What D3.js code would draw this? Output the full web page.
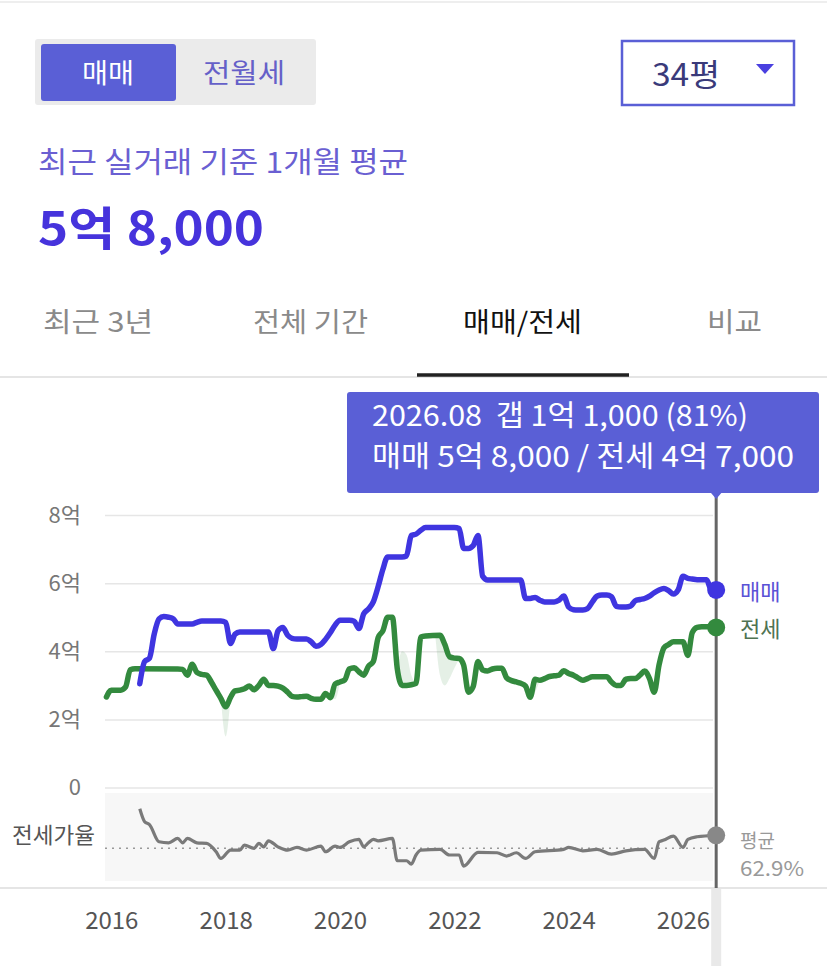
<!DOCTYPE html>
<html>
<head>
<meta charset="utf-8">
<script src="https://cdn.jsdelivr.net/npm/d3@7"></script>
<style>
  body { margin: 0; background: #fff; }
  svg { display: block; font-family: "Noto Sans CJK KR", "Noto Sans", sans-serif; }
</style>
</head>
<body>
<script>

// 매매 (sale) monthly average, 억
var saleData = [
  ["2016-07", 3.05], ["2016-08", 3.7], ["2016-09", 3.8], ["2016-10", 4.5], ["2016-11", 4.95],
  ["2016-12", 5.02], ["2017-01", 5.0], ["2017-02", 4.95], ["2017-03", 4.8], ["2017-06", 4.8],
  ["2017-07", 4.85], ["2017-08", 4.89], ["2017-12", 4.89], ["2018-01", 4.85], ["2018-02", 4.23],
  ["2018-03", 4.5], ["2018-04", 4.57], ["2018-10", 4.57], ["2018-11", 4.08], ["2018-12", 4.6],
  ["2019-01", 4.7], ["2019-02", 4.47], ["2019-03", 4.38], ["2019-04", 4.36], ["2019-06", 4.36],
  ["2019-07", 4.28], ["2019-08", 4.15], ["2019-09", 4.2], ["2019-10", 4.35], ["2019-11", 4.55],
  ["2019-12", 4.77], ["2020-01", 4.91], ["2020-03", 4.91], ["2020-04", 4.88], ["2020-05", 4.67],
  ["2020-06", 5.1], ["2020-07", 5.24], ["2020-08", 5.45], ["2020-09", 5.9], ["2020-10", 6.4],
  ["2020-11", 6.77], ["2021-02", 6.77], ["2021-03", 6.8], ["2021-04", 7.4], ["2021-05", 7.44],
  ["2021-06", 7.55], ["2021-07", 7.63], ["2022-01", 7.63], ["2022-02", 7.6], ["2022-03", 7.02],
  ["2022-04", 7.02], ["2022-05", 7.1], ["2022-06", 7.4], ["2022-07", 6.2], ["2022-08", 6.09],
  ["2023-03", 6.09], ["2023-04", 5.55], ["2023-05", 5.55], ["2023-06", 5.58], ["2023-07", 5.5],
  ["2023-08", 5.45], ["2023-10", 5.45], ["2023-11", 5.5], ["2023-12", 5.62], ["2024-01", 5.3],
  ["2024-02", 5.22], ["2024-03", 5.21], ["2024-04", 5.21], ["2024-05", 5.25], ["2024-06", 5.45],
  ["2024-07", 5.62], ["2024-08", 5.65], ["2024-09", 5.65], ["2024-10", 5.6], ["2024-11", 5.32],
  ["2024-12", 5.3], ["2025-01", 5.3], ["2025-02", 5.33], ["2025-03", 5.48], ["2025-04", 5.52],
  ["2025-05", 5.55], ["2025-06", 5.62], ["2025-07", 5.72], ["2025-08", 5.8], ["2025-09", 5.84],
  ["2025-10", 5.78], ["2025-11", 5.68], ["2025-12", 5.8], ["2026-01", 6.2], ["2026-02", 6.14],
  ["2026-03", 6.12], ["2026-04", 6.1], ["2026-06", 6.1], ["2026-07", 5.8], ["2026-08", 5.8]
];

// 전세 (jeonse) monthly average, 억
var jeonseData = [
  ["2015-12", 2.66], ["2016-01", 2.86], ["2016-03", 2.86], ["2016-04", 2.95], ["2016-05", 3.46],
  ["2016-06", 3.49], ["2017-03", 3.48], ["2017-04", 3.47], ["2017-05", 3.3], ["2017-06", 3.62],
  ["2017-07", 3.38], ["2017-08", 3.32], ["2017-09", 3.3], ["2017-10", 3.1], ["2017-11", 2.85],
  ["2017-12", 2.62], ["2018-01", 2.37], ["2018-02", 2.65], ["2018-03", 2.84], ["2018-04", 2.86],
  ["2018-05", 2.9], ["2018-06", 2.98], ["2018-07", 2.87], ["2018-08", 3.0], ["2018-09", 3.18],
  ["2018-10", 3.0], ["2018-11", 3.0], ["2018-12", 2.98], ["2019-01", 2.92], ["2019-02", 2.8],
  ["2019-03", 2.68], ["2019-04", 2.66], ["2019-05", 2.67], ["2019-06", 2.68], ["2019-07", 2.62],
  ["2019-08", 2.59], ["2019-09", 2.59], ["2019-10", 2.76], ["2019-11", 2.64], ["2019-12", 3.04],
  ["2020-01", 3.1], ["2020-02", 3.16], ["2020-03", 3.48], ["2020-04", 3.52], ["2020-05", 3.4],
  ["2020-06", 3.3], ["2020-07", 3.56], ["2020-08", 3.7], ["2020-09", 4.4], ["2020-10", 4.6],
  ["2020-11", 5.0], ["2020-12", 5.0], ["2021-01", 3.5], ["2021-02", 3.0], ["2021-03", 3.0],
  ["2021-04", 3.02], ["2021-05", 3.06], ["2021-06", 4.42], ["2021-07", 4.45], ["2021-10", 4.47],
  ["2021-11", 4.2], ["2021-12", 3.84], ["2022-01", 3.8], ["2022-02", 3.79], ["2022-03", 3.6],
  ["2022-04", 2.8], ["2022-05", 2.96], ["2022-06", 3.7], ["2022-07", 3.45], ["2022-08", 3.42],
  ["2022-09", 3.48], ["2022-10", 3.5], ["2022-11", 3.5], ["2022-12", 3.22], ["2023-01", 3.14],
  ["2023-02", 3.1], ["2023-03", 3.06], ["2023-04", 2.98], ["2023-05", 2.65], ["2023-06", 3.18],
  ["2023-07", 3.15], ["2023-08", 3.2], ["2023-09", 3.26], ["2023-10", 3.28], ["2023-11", 3.3],
  ["2023-12", 3.43], ["2024-01", 3.35], ["2024-02", 3.3], ["2024-03", 3.22], ["2024-04", 3.15],
  ["2024-05", 3.2], ["2024-06", 3.25], ["2024-09", 3.25], ["2024-10", 3.1], ["2024-11", 3.0],
  ["2024-12", 3.0], ["2025-01", 3.18], ["2025-02", 3.2], ["2025-03", 3.2], ["2025-04", 3.3],
  ["2025-05", 3.42], ["2025-06", 3.2], ["2025-07", 2.8], ["2025-08", 3.6], ["2025-09", 4.1],
  ["2025-10", 4.2], ["2025-11", 4.28], ["2026-01", 4.28], ["2026-02", 3.88], ["2026-03", 4.55],
  ["2026-04", 4.7], ["2026-05", 4.72], ["2026-07", 4.72], ["2026-08", 4.7]
];

// faint 전세 trade range [month, low, high]
var jeonseRange = [
  [["2017-12", 2.62, 2.62], ["2018-01", 1.5, 2.37], ["2018-02", 2.65, 2.65]],
  [["2019-11", 2.64, 2.64], ["2019-12", 2.6, 3.04], ["2020-01", 3.1, 3.1]],
  [["2021-01", 3.5, 3.5], ["2021-02", 3.0, 4.0], ["2021-03", 3.0, 3.9], ["2021-04", 3.02, 3.3], ["2021-05", 3.06, 3.06]],
  [["2021-09", 4.47, 4.47], ["2021-10", 3.3, 4.47], ["2021-11", 3.0, 4.2], ["2021-12", 3.2, 3.84], ["2022-01", 3.5, 3.8], ["2022-02", 3.79, 3.79]],
  [["2023-05", 2.65, 2.65], ["2023-06", 2.8, 3.18], ["2023-07", 3.15, 3.15]]
];

// 전세가율 (%)
var ratioData = [
  ["2016-07", 118], ["2016-08", 100], ["2016-09", 96], ["2016-11", 72], ["2017-01", 70.5],
  ["2017-03", 76.6], ["2017-04", 70.5], ["2017-05", 76.6], ["2017-07", 70.5], ["2017-09", 69.7],
  ["2017-11", 58], ["2017-12", 48.7], ["2018-02", 60.3], ["2018-04", 60.3], ["2018-05", 67.3],
  ["2018-07", 62.7], ["2018-08", 69.7], ["2018-09", 64.9], ["2018-10", 73.3], ["2018-12", 64.9],
  ["2019-02", 60.3], ["2019-04", 64.1], ["2019-06", 60.3], ["2019-09", 65.9], ["2019-10", 58],
  ["2019-12", 65.9], ["2020-01", 64.1], ["2020-03", 71.9], ["2020-05", 75.3], ["2020-06", 64.9],
  ["2020-07", 70.5], ["2020-08", 75.3], ["2020-09", 73.3], ["2020-12", 76.6], ["2021-01", 45.5],
  ["2021-03", 45.5], ["2021-04", 40.8], ["2021-05", 53.5], ["2021-06", 60.3], ["2021-10", 61.3],
  ["2021-12", 53.5], ["2022-02", 53.5], ["2022-03", 38], ["2022-06", 57.2], ["2022-10", 56.6],
  ["2022-12", 52], ["2023-02", 56.6], ["2023-04", 48.7], ["2023-06", 58], ["2023-12", 61.3],
  ["2024-01", 64.1], ["2024-04", 59.3], ["2024-07", 61.3], ["2024-10", 54.7], ["2025-01", 59.3],
  ["2025-05", 61.3], ["2025-07", 48.7], ["2025-08", 71.9], ["2025-09", 74.3], ["2025-11", 79.9],
  ["2026-01", 64.1], ["2026-02", 75.3], ["2026-04", 78.9], ["2026-08", 81]
];

var ratioAverage = 62.9;
var yTicks = [0, 2, 4, 6, 8];
var yearTicks = ["2016", "2018", "2020", "2022", "2024", "2026"];

var toggleLabels = ["매매", "전월세"];
var tabLabels = ["최근 3년", "전체 기간", "매매/전세", "비교"];
var areaLabel = "34평";
var subtitle = "최근 실거래 기준 1개월 평균";
var headline = "5억 8,000";
var tipLines = ["2026.08  갭 1억 1,000 (81%)", "매매 5억 8,000 / 전세 4억 7,000"];
var focusMonth = "2026-08";

var colors = { sale: "#3f35e0", jeonse: "#338a3e", ratio: "#7a7a7a", accent: "#5a5fd6" };

var width = 827, height = 966;
var plot_left = 105, plot_right = 713;

var parse = d3.timeParse("%Y-%m");
var parseYear = d3.timeParse("%Y");

var svg = d3.select("body").append("svg")
    .attr("width", width)
    .attr("height", height);

var x = d3.scaleTime()
    .domain([parse("2016-01"), parse("2026-01")])
    .range([111.3, 683]);

var y = d3.scaleLinear().domain([0, 8]).range([787.6, 515]);
var yRatio = d3.scaleLinear().domain([20, 140]).range([879, 793]);

// stretch a text to the width it has in the picture
function fit(sel, w) {
    sel.attr("textLength", w).attr("lengthAdjust", "spacingAndGlyphs");
}

// ---- header ----
svg.append("line")
    .attr("x1", 0).attr("x2", width).attr("y1", 2).attr("y2", 2)
    .attr("stroke", "#eeeeee").attr("stroke-width", 2);

svg.append("rect")
    .attr("x", 35).attr("y", 39).attr("width", 281).attr("height", 66)
    .attr("rx", 3).attr("fill", "#ebebeb");

svg.append("rect")
    .attr("x", 41).attr("y", 44).attr("width", 135).attr("height", 57)
    .attr("rx", 3).attr("fill", colors.accent);

var toggleW = [52, 82];
svg.selectAll(".toggle").data(toggleLabels).enter().append("text")
    .attr("x", (d, i) => i == 0 ? 108 : 244)
    .attr("y", 74)
    .attr("dy", "0.35em")
    .attr("text-anchor", "middle")
    .attr("font-size", 27)
    .attr("fill", (d, i) => i == 0 ? "#ffffff" : "#6560c8")
    .attr("textLength", (d, i) => toggleW[i])
    .attr("lengthAdjust", "spacingAndGlyphs")
    .text(d => d);

svg.append("rect")
    .attr("x", 622).attr("y", 41).attr("width", 172).attr("height", 64)
    .attr("fill", "#fff").attr("stroke", colors.accent).attr("stroke-width", 2.5);

svg.append("text")
    .attr("x", 686).attr("y", 75).attr("dy", "0.35em")
    .attr("text-anchor", "middle").attr("font-size", 31)
    .attr("fill", "#3a3a7a")
    .call(fit, 68)
    .text(areaLabel);

svg.append("path")
    .attr("d", "M756,64 L774,64 L765,74 Z")
    .attr("fill", "#4a40e0");

svg.append("text")
    .attr("x", 38).attr("y", 163).attr("dy", "0.35em")
    .attr("font-size", 29).attr("fill", "#6a5fd2")
    .call(fit, 370)
    .text(subtitle);

svg.append("text")
    .attr("x", 38).attr("y", 229).attr("dy", "0.35em")
    .attr("font-size", 46).attr("font-weight", "bold")
    .attr("fill", "#4633dc")
    .call(fit, 226)
    .text(headline);

// ---- tabs ----
var tabX = [98, 310.5, 522.5, 734.5];
var tabW = [110, 115, 119, 55];
svg.selectAll(".tab").data(tabLabels).enter().append("text")
    .attr("x", (d, i) => tabX[i])
    .attr("y", 323).attr("dy", "0.35em")
    .attr("text-anchor", "middle")
    .attr("font-size", 27)
    .attr("fill", (d, i) => i == 2 ? "#111111" : "#8a8a8a")
    .attr("textLength", (d, i) => tabW[i])
    .attr("lengthAdjust", "spacingAndGlyphs")
    .text(d => d);

svg.append("line")
    .attr("x1", 0).attr("x2", width).attr("y1", 377).attr("y2", 377)
    .attr("stroke", "#dddddd").attr("stroke-width", 1.5);

svg.append("line")
    .attr("x1", 417).attr("x2", 629).attr("y1", 375).attr("y2", 375)
    .attr("stroke", "#222").attr("stroke-width", 3.5);

// ---- y axis with grid ----
var yAxis = d3.axisLeft(y)
    .tickValues(yTicks)
    .tickSize(-(plot_right - plot_left))
    .tickPadding(24)
    .tickFormat(d => d == 0 ? "0" : d + "억");

var gy = svg.append("g")
    .attr("transform", "translate(" + plot_left + ",0)")
    .call(yAxis);
gy.select(".domain").remove();
gy.selectAll(".tick line").attr("stroke", "#e6e6e6").attr("stroke-width", 1.5);
gy.selectAll(".tick text")
    .attr("font-size", 22).attr("fill", "#777")
    .attr("font-family", "'Noto Sans CJK KR', sans-serif");

// ---- ratio panel ----
svg.append("rect")
    .attr("x", plot_left).attr("y", yRatio.range()[1])
    .attr("width", plot_right - plot_left)
    .attr("height", yRatio.range()[0] - yRatio.range()[1] + 2)
    .attr("fill", "#f7f7f7");

svg.append("line")
    .attr("x1", plot_left).attr("x2", plot_right)
    .attr("y1", yRatio(ratioAverage)).attr("y2", yRatio(ratioAverage))
    .attr("stroke", "#999").attr("stroke-width", 1.5)
    .attr("stroke-dasharray", "2,5");

svg.append("text")
    .attr("x", 95).attr("y", 835).attr("dy", "0.35em")
    .attr("text-anchor", "end").attr("font-size", 22)
    .attr("fill", "#555")
    .call(fit, 83)
    .text("전세가율");

// ---- lines ----
function setLine(yScale) {
    return d3.line()
        .x(d => x(parse(d[0])))
        .y(d => yScale(d[1]))
        .curve(d3.curveMonotoneX);
}

var band = d3.area()
    .x(d => x(parse(d[0])))
    .y0(d => y(d[1]))
    .y1(d => y(d[2]))
    .curve(d3.curveMonotoneX);

svg.append("g").selectAll("path").data(jeonseRange).enter().append("path")
    .attr("d", d => band(d))
    .attr("fill", colors.jeonse)
    .attr("opacity", 0.13);

svg.append("path")
    .attr("d", setLine(yRatio)(ratioData))
    .attr("fill", "none")
    .attr("stroke", colors.ratio)
    .attr("stroke-width", 3.2)
    .attr("stroke-linejoin", "round");

svg.append("path")
    .attr("d", setLine(y)(jeonseData))
    .attr("fill", "none")
    .attr("stroke", colors.jeonse)
    .attr("stroke-width", 5.5)
    .attr("stroke-linejoin", "round")
    .attr("stroke-linecap", "round");

svg.append("path")
    .attr("d", setLine(y)(saleData))
    .attr("fill", "none")
    .attr("stroke", colors.sale)
    .attr("stroke-width", 5.5)
    .attr("stroke-linejoin", "round")
    .attr("stroke-linecap", "round");

// ---- bottom axis ----
svg.append("line")
    .attr("x1", 0).attr("x2", width).attr("y1", 888).attr("y2", 888)
    .attr("stroke", "#dddddd").attr("stroke-width", 1.5);

var fx = x(parse(focusMonth));

svg.append("rect")
    .attr("x", fx - 5).attr("y", 889).attr("width", 10).attr("height", height - 889)
    .attr("fill", "#e9e9e9");

var xAxis = d3.axisBottom(x)
    .tickValues(yearTicks.map(parseYear))
    .tickSize(0)
    .tickPadding(0)
    .tickFormat(d3.timeFormat("%Y"));

var gx = svg.append("g")
    .attr("transform", "translate(0,912)")
    .call(xAxis);
gx.select(".domain").remove();
gx.selectAll(".tick text")
    .attr("font-size", 24).attr("fill", "#555")
    .attr("font-family", "'Noto Sans CJK KR', sans-serif");

// ---- focus line, dots, labels ----
svg.append("line")
    .attr("x1", fx).attr("x2", fx).attr("y1", 490).attr("y2", 888)
    .attr("stroke", "#666").attr("stroke-width", 3);

var last = [
    { v: saleData[saleData.length - 1][1], s: y, c: colors.sale },
    { v: jeonseData[jeonseData.length - 1][1], s: y, c: colors.jeonse },
    { v: ratioData[ratioData.length - 1][1], s: yRatio, c: "#888" }
];
svg.selectAll(".dot").data(last).enter().append("circle")
    .attr("cx", fx)
    .attr("cy", d => d.s(d.v))
    .attr("r", 9)
    .attr("fill", d => d.c);

svg.append("text")
    .attr("x", 740).attr("y", y(saleData[saleData.length - 1][1]) + 2).attr("dy", "0.35em")
    .attr("font-size", 22).attr("fill", "#5a52d6").text("매매");
svg.append("text")
    .attr("x", 740).attr("y", y(jeonseData[jeonseData.length - 1][1]) + 2).attr("dy", "0.35em")
    .attr("font-size", 22).attr("fill", "#4f7352").text("전세");
svg.append("text")
    .attr("x", 740).attr("y", 841).attr("dy", "0.35em")
    .attr("font-size", 19).attr("fill", "#999").text("평균");
svg.append("text")
    .attr("x", 740).attr("y", 869).attr("dy", "0.35em")
    .attr("font-size", 20).attr("fill", "#999")
    .call(fit, 64)
    .text(ratioAverage + "%");

// ---- tooltip ----
svg.append("rect")
    .attr("x", 347).attr("y", 392).attr("width", 472).attr("height", 101)
    .attr("rx", 3).attr("fill", colors.accent);

svg.append("path")
    .attr("d", "M" + (fx - 6) + ",492 L" + (fx + 6) + ",492 L" + fx + ",499 Z")
    .attr("fill", colors.accent);

var tipW = [376, 422];
svg.selectAll(".tip").data(tipLines).enter().append("text")
    .attr("x", 372)
    .attr("y", (d, i) => 416 + i * 41)
    .attr("dy", "0.35em")
    .attr("font-size", 29)
    .attr("fill", "#fff")
    .style("white-space", "pre")
    .attr("textLength", (d, i) => tipW[i])
    .attr("lengthAdjust", "spacingAndGlyphs")
    .text(d => d);

</script>
</body>
</html>
